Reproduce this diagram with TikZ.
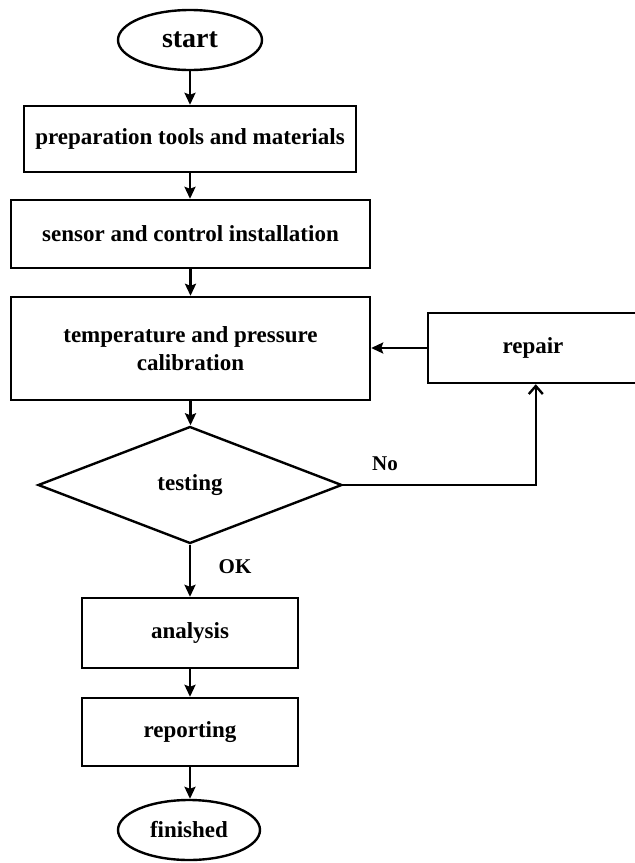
\documentclass[tikz,border=0pt]{standalone}
\usepackage{fontspec}
\setmainfont{Liberation Serif}
\usetikzlibrary{shapes.geometric,arrows.meta,calc}
\begin{document}
\begin{tikzpicture}[x=1pt,y=-1pt,
  every node/.style={font=\fontsize{23}{28}\selectfont\bfseries, inner sep=0pt},
  proc/.style={draw, line width=2.4pt, rectangle, align=center},
  term/.style={draw, line width=2.4pt, ellipse},
  dec/.style={draw, line width=2.4pt, diamond},
  lbl/.style={font=\fontsize{21}{25}\selectfont\bfseries},
  flow/.style={line width=2.4pt, -{Stealth[length=12pt,width=11pt,inset=2pt]}},
  openflow/.style={line width=2.4pt, -{Straight Barb[length=8pt,width=14pt,line width=2.4pt]}}]
\useasboundingbox (0,0) rectangle (635,863);
\node[term, minimum width=144pt, minimum height=60pt, font=\fontsize{28}{33}\selectfont\bfseries] (start) at (190,40) {start};
\node[proc, minimum width=332pt, minimum height=66pt] (prep) at (190,139) {preparation tools and materials};
\node[proc, minimum width=359pt, minimum height=68pt] (sensor) at (190.5,234) {sensor and control installation};
\node[proc, minimum width=359pt, minimum height=103pt] (calib) at (190.5,348.5) {temperature and pressure\\calibration};
\node[proc, minimum width=210pt, minimum height=70pt] (repair) at (533,348) {repair};
\node[dec, minimum width=304pt, minimum height=117pt] (test) at (190,485) {testing};
\node[proc, minimum width=216pt, minimum height=70pt] (analysis) at (190,633) {analysis};
\node[proc, minimum width=216pt, minimum height=68pt] (report) at (190,732) {reporting};
\node[term, minimum width=142pt, minimum height=60pt] (finish) at (189,830) {finished};
\node[lbl] (no) at (385,464) {No};
\node[lbl] (ok) at (235,567) {OK};
\coordinate (rin) at ([xshift=109pt]repair.south west);
\draw[flow] (start.south) -- (prep.north);
\draw[flow] (prep.south) -- (prep.south |- sensor.north);
\draw[flow] (sensor.south) -- (sensor.south |- calib.north);
\draw[flow] (calib.south) -- (calib.south |- test.north);
\draw[flow] (repair.west) -- (calib.east |- repair.west);
\draw[openflow] (test.east) -| (rin);
\draw[flow] (test.south) -- (analysis.north);
\draw[flow] (analysis.south) -- (report.north);
\draw[flow] (report.south) -- (report.south |- finish.north);
\end{tikzpicture}
\end{document}
